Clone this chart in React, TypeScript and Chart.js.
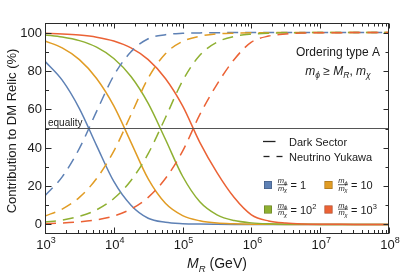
import React, { useEffect, useRef } from 'react';
import { Chart, registerables } from 'chart.js';

Chart.register(...registerables);

// M_R grid (GeV), quarter-decade steps from 10^3 to 10^8
const MR = [
  1000, 1778, 3162, 5623, 10000, 17783, 31623, 56234, 100000, 177828, 316228, 562341,
  1000000, 1778279, 3162278, 5623413, 10000000, 17782794, 31622777, 56234133, 100000000,
];

// Dark Sector contributions (%), solid lines
const DS_RATIO_1 = [85.0, 75.2, 60.4, 41.1, 22.4, 10.0, 3.2, 1.1, 0.4, 0.15, 0.05, 0, 0, 0, 0, 0, 0, 0, 0, 0, 0];
const DS_RATIO_10 = [95.6, 92.0, 85.9, 76.1, 61.8, 42.8, 23.7, 11.0, 4.6, 1.9, 0.7, 0.3, 0.1, 0.04, 0, 0, 0, 0, 0, 0, 0];
const DS_RATIO_100 = [98.8, 97.7, 95.8, 92.4, 86.5, 77.1, 63.1, 44.4, 25.1, 11.8, 5.0, 2.0, 0.8, 0.3, 0.12, 0.05, 0, 0, 0, 0, 0];
const DS_RATIO_1000 = [99.6, 99.3, 98.7, 97.6, 95.6, 92.0, 85.9, 76.1, 61.8, 42.8, 27.0, 14.0, 5.0, 1.8, 0.7, 0.25, 0.1, 0.04, 0, 0, 0];

// Neutrino Yukawa contributions (%), dashed lines
const NY_RATIO_1 = [15.0, 24.8, 39.6, 58.9, 77.6, 90.0, 96.8, 98.9, 99.6, 99.85, 99.95, 100, 100, 100, 100, 100, 100, 100, 100, 100, 100];
const NY_RATIO_10 = [4.4, 8.0, 14.1, 23.9, 38.2, 57.2, 76.3, 89.0, 95.4, 98.1, 99.3, 99.7, 99.9, 99.96, 100, 100, 100, 100, 100, 100, 100];
const NY_RATIO_100 = [1.2, 2.3, 4.2, 7.6, 13.5, 22.9, 36.9, 55.6, 74.9, 88.2, 95.0, 98.0, 99.2, 99.7, 99.88, 99.95, 100, 100, 100, 100, 100];
const NY_RATIO_1000 = [0.4, 0.7, 1.3, 2.4, 4.4, 8.0, 14.1, 23.9, 38.2, 57.2, 73.0, 86.0, 95.0, 98.2, 99.3, 99.75, 99.9, 99.96, 100, 100, 100];

const EQUALITY = 50;
const X_DECADES = [3, 4, 5, 6, 7, 8];
const Y_TICKS = [0, 10, 20, 30, 40, 50, 60, 70, 80, 90, 100];
const Y_LABELS = [0, 20, 40, 60, 80, 100];

const C_BLUE = '#5E81B5';
const C_ORANGE = '#E19C24';
const C_GREEN = '#8FB032';
const C_RED = '#EB6235';

const LEGEND_RATIOS = [
  { color: C_BLUE, base: '1', exp: '' },
  { color: C_ORANGE, base: '10', exp: '' },
  { color: C_GREEN, base: '10', exp: '2' },
  { color: C_RED, base: '10', exp: '3' },
];

const FAM = '"Liberation Sans", Arial, Helvetica, sans-serif';

type Run = { t: string; size: number; italic?: boolean; dy?: number };

function font(size: number, italic?: boolean) {
  return `${italic ? 'italic ' : ''}${size}px ${FAM}`;
}

function runsWidth(ctx: CanvasRenderingContext2D, runs: Run[]) {
  let w = 0;
  for (const r of runs) {
    ctx.font = font(r.size, r.italic);
    w += ctx.measureText(r.t).width;
  }
  return w;
}

function drawRuns(ctx: CanvasRenderingContext2D, runs: Run[], x: number, y: number, align: 'left' | 'center' | 'right') {
  const w = runsWidth(ctx, runs);
  let cx = align === 'left' ? x : align === 'center' ? x - w / 2 : x - w;
  ctx.textAlign = 'left';
  ctx.textBaseline = 'alphabetic';
  for (const r of runs) {
    ctx.font = font(r.size, r.italic);
    ctx.fillText(r.t, cx, y + (r.dy || 0));
    cx += ctx.measureText(r.t).width;
  }
}

function toPoints(vals: number[]) {
  return MR.map((x, i) => ({ x, y: vals[i] }));
}

const decorPlugin = {
  id: 'decor',
  afterDatasetsDraw(chart: any) {
    const ctx: CanvasRenderingContext2D = chart.ctx;
    const xs = chart.scales.x;
    const ys = chart.scales.y;
    const { left, right, top, bottom } = chart.chartArea;
    const L = Math.round(left) + 0.5;
    const R = Math.round(right) - 0.5;
    const T = Math.round(top) + 0.5;
    const B = Math.round(bottom) - 0.5;
    ctx.save();
    ctx.strokeStyle = '#2a2a2a';
    ctx.fillStyle = '#1a1a1a';
    ctx.lineWidth = 1;
    ctx.setLineDash([]);
    const seg = (x1: number, y1: number, x2: number, y2: number) => {
      ctx.beginPath();
      ctx.moveTo(x1, y1);
      ctx.lineTo(x2, y2);
      ctx.stroke();
    };
    // frame
    ctx.strokeRect(L, T, R - L, B - T);
    // x ticks
    for (const e of X_DECADES) {
      for (let k = 1; k <= 9; k++) {
        const v = k * Math.pow(10, e);
        if (v > 1e8 * 1.0001) break;
        const px = Math.round(xs.getPixelForValue(v)) + 0.5;
        const major = k === 1;
        seg(px, B, px, B - (major ? 6 : 3.5));
        seg(px, T, px, T + (major ? 5 : 3));
      }
    }
    // y ticks
    for (const v of Y_TICKS) {
      const py = Math.round(ys.getPixelForValue(v)) + 0.5;
      const major = v % 20 === 0;
      seg(L, py, L + (major ? 6 : 3.5), py);
      seg(R, py, R - (major ? 5 : 3), py);
    }
    // y tick labels
    ctx.font = font(13);
    ctx.textAlign = 'right';
    ctx.textBaseline = 'middle';
    for (const v of Y_LABELS) {
      ctx.fillText(String(v), 42, ys.getPixelForValue(v) + 0.5);
    }
    // x tick labels
    for (const e of X_DECADES) {
      const px = xs.getPixelForValue(Math.pow(10, e));
      drawRuns(ctx, [{ t: '10', size: 13 }, { t: String(e), size: 9, dy: -6 }], px + 1, 249, 'center');
    }
    // axis titles
    drawRuns(
      ctx,
      [
        { t: 'M', size: 14, italic: true },
        { t: 'R', size: 9.5, italic: true, dy: 3.5 },
        { t: ' (GeV)', size: 14 },
      ],
      (left + right) / 2,
      268,
      'center'
    );
    ctx.save();
    ctx.translate(15.5, 131);
    ctx.rotate(-Math.PI / 2);
    ctx.font = font(13);
    ctx.textAlign = 'center';
    ctx.textBaseline = 'alphabetic';
    ctx.fillText('Contribution to DM Relic (%)', 0, 0);
    ctx.restore();

    // equality label
    ctx.font = font(10);
    ctx.textAlign = 'left';
    ctx.textBaseline = 'alphabetic';
    ctx.fillText('equality', 48, ys.getPixelForValue(EQUALITY) - 3);

    // ordering annotation
    ctx.font = font(12);
    ctx.textAlign = 'center';
    ctx.fillText('Ordering type A', 338, 56);
    drawRuns(
      ctx,
      [
        { t: 'm', size: 12, italic: true },
        { t: 'ϕ', size: 8.5, italic: true, dy: 3 },
        { t: ' ≥ ', size: 12 },
        { t: 'M', size: 12, italic: true },
        { t: 'R', size: 8.5, italic: true, dy: 3 },
        { t: ', ', size: 12 },
        { t: 'm', size: 12, italic: true },
        { t: 'χ', size: 8.5, italic: true, dy: 3 },
      ],
      338,
      75,
      'center'
    );

    // legend: line styles
    ctx.strokeStyle = '#222';
    ctx.lineWidth = 1.3;
    seg(263, 141.5, 275.5, 141.5);
    seg(263.5, 156.5, 269.5, 156.5);
    seg(276.5, 156.5, 282.5, 156.5);
    ctx.font = font(11);
    ctx.textAlign = 'left';
    ctx.textBaseline = 'alphabetic';
    ctx.fillText('Dark Sector', 289, 145.5);
    ctx.fillText('Neutrino Yukawa', 289, 160.5);

    // legend: colour swatches with mass ratios
    const spots = [
      { x0: 264, yc: 185 },
      { x0: 324.5, yc: 185 },
      { x0: 264, yc: 209.5 },
      { x0: 324.5, yc: 209.5 },
    ];
    LEGEND_RATIOS.forEach((item, i) => {
      const { x0, yc } = spots[i];
      ctx.fillStyle = item.color;
      ctx.fillRect(x0, yc - 4, 8, 8);
      ctx.strokeStyle = 'rgba(0,0,0,0.3)';
      ctx.lineWidth = 0.6;
      ctx.strokeRect(x0 + 0.3, yc - 3.7, 7.4, 7.4);
      ctx.fillStyle = '#1a1a1a';
      const fx = x0 + 18.5;
      drawRuns(ctx, [{ t: 'm', size: 7.5, italic: true }, { t: 'ϕ', size: 5.5, italic: true, dy: 1.5 }], fx, yc - 2, 'center');
      ctx.strokeStyle = '#1a1a1a';
      ctx.lineWidth = 0.7;
      seg(fx - 5, yc - 0.3, fx + 5, yc - 0.3);
      drawRuns(ctx, [{ t: 'm', size: 7.5, italic: true }, { t: 'χ', size: 5.5, italic: true, dy: 1.5 }], fx, yc + 5.5, 'center');
      const runs: Run[] = [{ t: '= ' + item.base, size: 11 }];
      if (item.exp) runs.push({ t: item.exp, size: 7.5, dy: -4.5 });
      drawRuns(ctx, runs, x0 + 26.5, yc + 4, 'left');
    });

    ctx.restore();
  },
};

export default function App() {
  const ref = useRef<HTMLCanvasElement | null>(null);

  useEffect(() => {
    if (!ref.current) return;
    const solid = (data: number[], color: string) => ({
      data: toPoints(data),
      borderColor: color,
      backgroundColor: color,
      borderWidth: 1.5,
      pointRadius: 0,
      cubicInterpolationMode: 'monotone' as const,
      fill: false,
    });
    const dashed = (data: number[], color: string) => ({
      ...solid(data, color),
      borderDash: [11, 7],
    });
    const chart = new Chart(ref.current, {
      type: 'line',
      data: {
        datasets: [
          {
            data: [
              { x: MR[0], y: EQUALITY },
              { x: MR[MR.length - 1], y: EQUALITY },
            ],
            borderColor: '#555',
            borderWidth: 1.2,
            pointRadius: 0,
            fill: false,
          },
          dashed(NY_RATIO_1000, C_RED),
          dashed(NY_RATIO_100, C_GREEN),
          dashed(NY_RATIO_10, C_ORANGE),
          dashed(NY_RATIO_1, C_BLUE),
          solid(DS_RATIO_1000, C_RED),
          solid(DS_RATIO_100, C_GREEN),
          solid(DS_RATIO_10, C_ORANGE),
          solid(DS_RATIO_1, C_BLUE),
        ],
      },
      options: {
        animation: false,
        responsive: false,
        maintainAspectRatio: false,
        devicePixelRatio: 1,
        layout: { padding: { left: 45, right: 24, top: 23, bottom: 41 } },
        plugins: { legend: { display: false }, tooltip: { enabled: false } },
        scales: {
          x: { type: 'logarithmic', min: 1000, max: 100000000, display: false },
          y: { type: 'linear', min: -5, max: 105, display: false },
        },
      },
      plugins: [decorPlugin],
    });
    return () => chart.destroy();
  }, []);

  return (
    <div style={{ position: 'fixed', left: 0, top: 0, width: 413, height: 275, background: '#fff' }}>
      <canvas ref={ref} width={413} height={275} style={{ width: 413, height: 275, display: 'block' }} />
    </div>
  );
}
